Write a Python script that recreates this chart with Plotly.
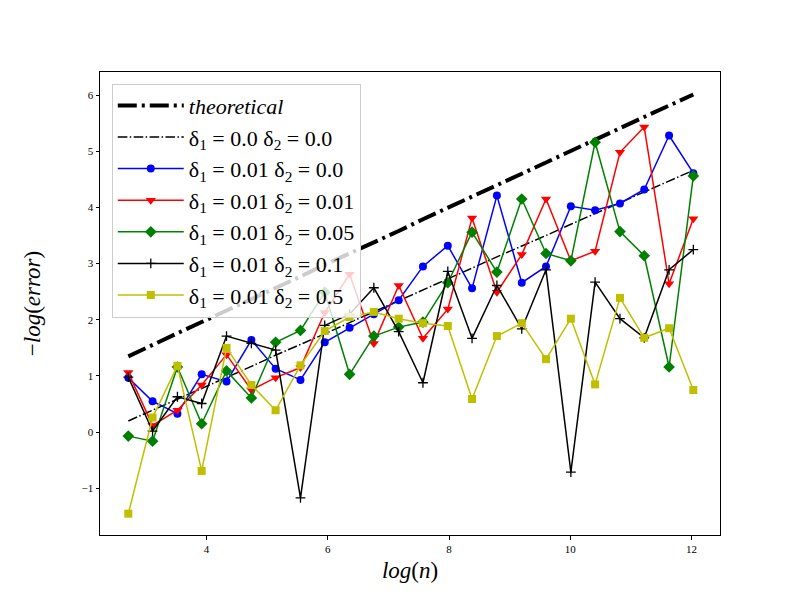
import plotly.graph_objects as go

log_n = [2.71, 3.11, 3.52, 3.92, 4.33, 4.74, 5.14, 5.55, 5.95, 6.36, 6.76, 7.17,
         7.57, 7.98, 8.38, 8.79, 9.20, 9.60, 10.01, 10.41, 10.82, 11.22, 11.63, 12.03]

theoretical = [1.35, 1.56, 1.76, 1.96, 2.16, 2.37, 2.57, 2.77, 2.98, 3.18, 3.38, 3.58,
               3.79, 3.99, 4.19, 4.39, 4.60, 4.80, 5.00, 5.21, 5.41, 5.61, 5.81, 6.01]
d00_00 = [0.20, 0.39, 0.59, 0.78, 0.98, 1.17, 1.37, 1.56, 1.75, 1.95, 2.14, 2.34,
          2.53, 2.73, 2.92, 3.12, 3.31, 3.50, 3.70, 3.89, 4.09, 4.28, 4.48, 4.66]
d01_00 = [0.97, 0.55, 0.33, 1.03, 0.90, 1.64, 1.13, 0.93, 1.60, 1.86, 2.10, 2.35,
          2.95, 3.32, 2.56, 4.21, 2.66, 2.95, 4.02, 3.95, 4.07, 4.32, 5.28, 4.61]
d01_01 = [1.06, 0.12, 0.39, 0.84, 1.38, 0.75, 0.97, 1.15, 2.13, 2.81, 1.58, 2.61,
          1.67, 2.19, 3.81, 2.49, 3.16, 4.15, 3.05, 3.22, 4.98, 5.43, 2.64, 3.80]
d01_05 = [-0.07, -0.16, 1.16, 0.15, 1.09, 0.61, 1.60, 1.81, 2.49, 1.03, 1.71, 1.87,
          1.96, 2.66, 3.56, 2.85, 4.15, 3.18, 3.05, 5.16, 3.57, 3.14, 1.16, 4.56]
d01_10 = [0.98, 0.02, 0.63, 0.51, 1.71, 1.58, 1.46, -1.17, 1.90, 2.10, 2.57, 1.79,
          0.88, 2.86, 1.67, 2.61, 1.84, 2.89, -0.71, 2.67, 2.02, 1.68, 2.89, 3.25]
d01_50 = [-1.45, 0.26, 1.18, -0.69, 1.50, 0.84, 0.39, 1.19, 1.80, 2.05, 2.14, 2.02,
          1.94, 1.89, 0.59, 1.71, 1.94, 1.30, 2.02, 0.85, 2.39, 1.68, 1.85, 0.75]

names = ["<i>theoretical</i>",
         "δ<sub>1</sub> = 0.0 δ<sub>2</sub> = 0.0",
         "δ<sub>1</sub> = 0.01 δ<sub>2</sub> = 0.0",
         "δ<sub>1</sub> = 0.01 δ<sub>2</sub> = 0.01",
         "δ<sub>1</sub> = 0.01 δ<sub>2</sub> = 0.05",
         "δ<sub>1</sub> = 0.01 δ<sub>2</sub> = 0.1",
         "δ<sub>1</sub> = 0.01 δ<sub>2</sub> = 0.5"]

FONT = "Liberation Serif"
fig = go.Figure()
fig.add_trace(go.Scatter(x=log_n, y=theoretical, mode="lines", name=names[0],
                         line=dict(color="black", width=4, dash="19px,5px,3px,5px")))
fig.add_trace(go.Scatter(x=log_n, y=d00_00, mode="lines", name=names[1],
                         line=dict(color="black", width=1.5, dash="9.6px,2.4px,1.5px,2.4px")))

series = [(d01_00, "#0000ff", "circle", 8),
          (d01_01, "#ff0000", "triangle-down", 9),
          (d01_05, "#008000", "diamond", 9),
          (d01_10, "#000000", "cross-thin", 7),
          (d01_50, "#bfbf00", "square", 8)]
for i, (vals, col, sym, sz) in enumerate(series):
    mk = dict(symbol=sym, size=sz, color=col)
    if sym == "cross-thin":
        mk["line"] = dict(color=col, width=1.3)
    else:
        mk["line"] = dict(width=0)
    fig.add_trace(go.Scatter(x=log_n, y=vals, mode="lines+markers", name=names[i + 2],
                             line=dict(color=col, width=1.5), marker=mk))

axis_common = dict(showline=True, linecolor="black", linewidth=1, mirror=True,
                   ticks="outside", ticklen=3.5, tickwidth=0.8, tickcolor="black",
                   showgrid=False, zeroline=False,
                   tickfont=dict(family=FONT, size=11, color="black"))

fig.update_xaxes(range=[2.243, 12.47], tickvals=[4, 6, 8, 10, 12],
                 title=dict(text="<i>log</i>(<i>n</i>)", font=dict(family=FONT, size=23, color="black"),
                            standoff=8),
                 **axis_common)
fig.update_yaxes(range=[-1.83, 6.41], tickvals=[-1, 0, 1, 2, 3, 4, 5, 6],
                 title=dict(text="−<i>log</i>(<i>error</i>)", font=dict(family=FONT, size=23, color="black"),
                            standoff=34),
                 **axis_common)

fig.update_layout(
    width=800, height=600,
    margin=dict(l=100, r=80, t=72, b=65),
    plot_bgcolor="white", paper_bgcolor="white",
    font=dict(family=FONT, color="black"),
    legend=dict(x=0.019, y=0.975, xanchor="left", yanchor="top",
                bgcolor="rgba(255,255,255,0.8)", bordercolor="#cccccc", borderwidth=1,
                font=dict(family=FONT, size=22, color="black"),
                itemwidth=66, tracegroupgap=0),
)

fig.write_html("out.html")
